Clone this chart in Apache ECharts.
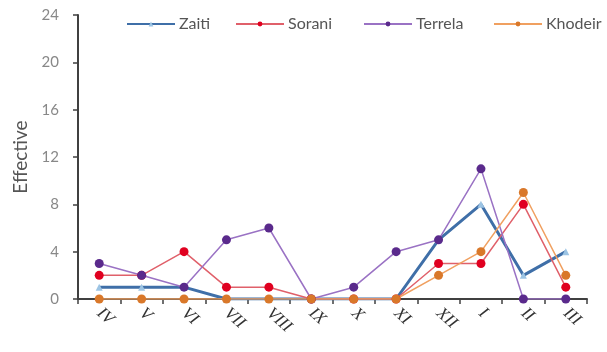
<!DOCTYPE html>
<html>
<head>
<meta charset="utf-8">
<script src="https://cdn.jsdelivr.net/npm/echarts@6/dist/echarts.min.js"></script>
<style>
html,body{margin:0;padding:0;background:#fff;}
#chart{width:607px;height:352px;}
</style>
</head>
<body>
<div id="chart"></div>
<script>
// Months, April through March
const months = ['IV', 'V', 'VI', 'VII', 'VIII', 'IX', 'X', 'XI', 'XII', 'I', 'II', 'III'];
const zaiti   = [1, 1, 1, 0, 0, 0, 0, 0, 5, 8, 2, 4];
const sorani  = [2, 2, 4, 1, 1, 0, 0, 0, 3, 3, 8, 1];
const terrela = [3, 2, 1, 5, 6, 0, 1, 4, 5, 11, 0, 0];
const khodeir = [0, 0, 0, 0, 0, 0, 0, 0, 2, 4, 9, 2];
const seriesNames = ['Zaiti', 'Sorani', 'Terrela', 'Khodeir'];
const yTicks = [0, 4, 8, 12, 16, 20, 24];

const chart = echarts.init(document.getElementById('chart'));

const uiFont = 'Lato, "Open Sans", sans-serif';
const legendLeft = [126, 235, 363, 493];

function lineSeries(name, data, lineColor, markColor, symbol, width, size) {
  return {
    name: name,
    type: 'line',
    data: data,
    symbol: symbol,
    symbolSize: size,
    lineStyle: { color: lineColor, width: width },
    itemStyle: { color: markColor },
    emphasis: { disabled: true },
    animation: false
  };
}

// one legend block per series so each entry sits at its own spot
const legends = seriesNames.map((n, i) => ({
  top: 16,
  left: legendLeft[i],
  padding: 0,
  itemWidth: 48,
  itemHeight: 6,
  textStyle: { color: '#555', fontSize: 16, fontFamily: uiFont, padding: [0, 0, 0, -1] },
  data: [n]
}));

chart.setOption({
  backgroundColor: '#fff',
  animation: false,
  textStyle: { fontFamily: uiFont },
  legend: legends,
  grid: { left: 78, right: 20, top: 15, bottom: 53, containLabel: false },
  xAxis: {
    type: 'category',
    data: months,
    boundaryGap: true,
    axisLine: { lineStyle: { color: '#404040', width: 2 } },
    axisTick: { show: true, length: 5, lineStyle: { color: '#404040', width: 1.5 } },
    axisLabel: {
      rotate: -42,
      color: '#333',
      fontSize: 17,
      fontStyle: 'italic',
      fontFamily: 'Liberation Serif, serif',
      margin: 12
    }
  },
  yAxis: {
    type: 'value',
    min: yTicks[0],
    max: yTicks[yTicks.length - 1],
    interval: 4,
    name: 'Effective',
    nameLocation: 'middle',
    nameGap: 47,
    nameTextStyle: { color: '#555', fontSize: 19, fontFamily: uiFont },
    axisLine: { show: true, lineStyle: { color: '#404040', width: 2 } },
    axisTick: { show: true, length: 5, lineStyle: { color: '#404040', width: 1.5 } },
    axisLabel: { color: '#888', fontSize: 15, margin: 19, fontFamily: uiFont },
    splitLine: { show: false }
  },
  series: [
    lineSeries('Zaiti', zaiti, '#3f6fa8', '#9cc4e4', 'triangle', 3, 7),
    lineSeries('Sorani', sorani, '#e0606a', '#e00020', 'circle', 1.5, 9),
    lineSeries('Terrela', terrela, '#9a72c4', '#5a2a8c', 'circle', 1.5, 9),
    lineSeries('Khodeir', khodeir, '#f0a060', '#d9782a', 'circle', 1.5, 9)
  ]
});
</script>
</body>
</html>
